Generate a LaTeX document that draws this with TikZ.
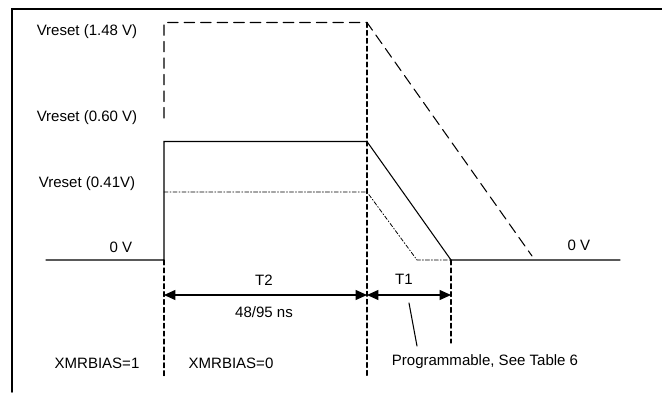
\documentclass[tikz,border=0pt]{standalone}
\usepackage{fontspec}
\setmainfont{Liberation Sans}
\usepackage{tkz-euclide}
\usetikzlibrary{arrows.meta}
\tikzset{
  wave/.style = {line width = .6pt},
  hidash/.style = {line width = .6pt, dash pattern = on 6pt off 3.4pt},
  marker/.style = {line width = .6pt, dash pattern = on 2.8pt off 1.7pt},
  lowdash/.style = {line width = .45pt, dash pattern = on 2.3pt off 1.1pt on .6pt off 1.1pt},
  span/.style = {line width = .6pt,
    {Triangle[length = 6.5pt, width = 5.7pt]}-{Triangle[length = 6.5pt, width = 5.7pt]}},
  txt/.style = {font = \fontsize{8.55}{10}\selectfont, inner sep = 0pt}
}
\newcommand{\myLabel}[3]{
\node[txt] (#1) at (#2) {#3};
}

\begin{document}
\begin{tikzpicture}
	\useasboundingbox (0,0) rectangle (13.24,7.84);
	\tkzDefPoints{0.244/0/F1, 0.244/7.664/F2, 13.24/7.664/F3}
	\tkzDrawPolySeg[line width = 1.1pt](F1,F2,F3)

	% levels
	\tkzDefPoints{0.92/2.64/O1, 3.28/2.64/B1, 3.28/5.01/S1, 7.34/5.01/S2, 9.02/2.64/S3, 12.40/2.64/O2}
	\tkzDefPoints{3.28/5.48/H0, 3.28/7.39/H1, 7.34/7.39/H2, 10.64/2.72/H3}
	\tkzDefPoints{3.28/4.00/D1, 7.34/4.00/D2, 8.34/2.64/D3}
	\tkzDrawPolySeg[wave](O1,B1,S1,S2,S3,O2)
	\tkzDrawPolySeg[hidash](H0,H1,H2,H3)
	\tkzDrawPolySeg[lowdash](D1,D2,D3,S3)

	% timing marks
	\tkzDefPoints{3.28/0.32/M1, 7.34/0.32/M2, 9.02/0.98/M3}
	\tkzDrawSegments[marker](B1,M1 H2,M2 S3,M3)
	\tkzDefPoints{3.28/1.94/A1, 7.34/1.94/A2, 9.02/1.94/A3}
	\tkzDrawSegments[span](A1,A2 A2,A3)
	\tkzDefPoints{8.18/1.78/L1, 8.34/0.92/L2}
	\tkzDrawSegment[wave](L1,L2)

	\myLabel{vhigh}{1.74,7.20}{Vreset (1.48 V)}
	\myLabel{vmid}{1.74,5.48}{Vreset (0.60 V)}
	\myLabel{vlow}{1.74,4.16}{Vreset (0.41V)}
	\myLabel{zeroL}{2.42,2.90}{0 V}
	\myLabel{zeroR}{11.58,2.94}{0 V}
	\myLabel{tTwo}{5.28,2.24}{T2}
	\myLabel{tTwoVal}{5.28,1.60}{48/95 ns}
	\myLabel{tOne}{8.08,2.26}{T1}
	\myLabel{biasOne}{1.94,0.58}{XMRBIAS=1}
	\myLabel{biasZero}{4.62,0.58}{XMRBIAS=0}
	\myLabel{prog}{9.70,0.60}{Programmable, See Table 6}
\end{tikzpicture}
\end{document}
